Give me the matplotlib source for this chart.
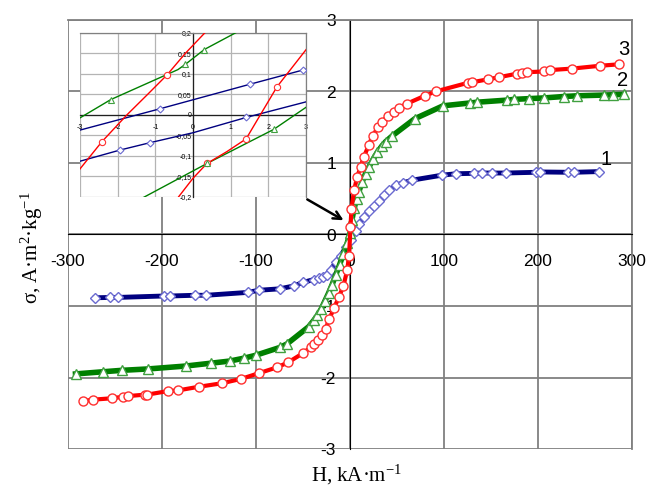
import matplotlib
matplotlib.use("Agg")
import matplotlib.pyplot as plt

plt.rcParams['font.family'] = ['Liberation Sans', 'DejaVu Sans']
plt.rcParams['axes.unicode_minus'] = False
plt.rcParams['mathtext.fontset'] = 'custom'
plt.rcParams['mathtext.rm'] = 'Liberation Serif'
plt.rcParams['mathtext.it'] = 'Liberation Serif:italic'

# ---------------- main data ----------------
H1 = [-271, -255, -247, -198, -191, -165, -153, -109, -97, -75, -60, -50, -38.5, -33, -29, -25,
      -20.5, -15, -10, -4.6, 0.7, 6, 9.6, 14.9, 20, 25.5, 30.9, 36, 42, 49, 56, 66, 98, 113, 132,
      140, 151, 166, 198, 202, 232, 238, 265]
S1 = [-0.885, -0.88, -0.88, -0.86, -0.86, -0.85, -0.85, -0.81, -0.78, -0.76, -0.72, -0.67, -0.63,
      -0.61, -0.59, -0.56, -0.49, -0.39, -0.30, -0.18, -0.07, 0.05, 0.14, 0.25, 0.33, 0.40, 0.47,
      0.55, 0.62, 0.69, 0.72, 0.76, 0.83, 0.85, 0.855, 0.86, 0.86, 0.86, 0.87, 0.875, 0.87, 0.87, 0.88]

H2 = [-292, -263, -243, -214.5, -175, -148, -128, -113, -100.5, -74.7, -67, -44, -38.5, -34.6, -30.6,
      -26.7, -22.8, -19, -15, -11, -7, -3, 0, 2, 4.5, 7, 9.5, 13, 16.5, 20, 24.5, 29, 34, 38, 45,
      69, 99, 128, 135, 167.5, 174.5, 190, 206, 227.5, 241.5, 270, 280, 291.5]
S2 = [-1.95, -1.92, -1.90, -1.88, -1.84, -1.80, -1.77, -1.73, -1.69, -1.58, -1.53, -1.29, -1.20, -1.13,
      -1.04, -0.93, -0.82, -0.70, -0.56, -0.42, -0.27, -0.12, 0.02, 0.20, 0.37, 0.50, 0.60, 0.74, 0.85,
      0.94, 1.05, 1.15, 1.24, 1.30, 1.38, 1.62, 1.80, 1.84, 1.85, 1.88, 1.89, 1.90, 1.91, 1.93, 1.94,
      1.95, 1.955, 1.96]

H3 = [-284, -273.5, -252.7, -242, -236, -218.5, -216, -193.7, -182.7, -161, -136, -116, -97, -78, -66,
      -50, -42, -38, -34, -30, -26, -22, -17, -12, -7, -3, -1, 0.5, 1.5, 4.3, 7.8, 11.3, 14.9, 20, 24,
      30, 34, 40, 46.5, 52, 60.6, 79.5, 91, 125, 130, 146.8, 158.5, 178, 183, 188.5, 206, 213, 236,
      266, 286]
S3 = [-2.33, -2.31, -2.29, -2.27, -2.26, -2.24, -2.24, -2.19, -2.18, -2.13, -2.08, -2.02, -1.94, -1.86,
      -1.79, -1.66, -1.58, -1.53, -1.47, -1.40, -1.32, -1.18, -1.03, -0.88, -0.72, -0.50, -0.30, 0.10,
      0.35, 0.62, 0.81, 0.95, 1.09, 1.25, 1.38, 1.50, 1.57, 1.66, 1.72, 1.77, 1.83, 1.94, 2.00, 2.12,
      2.13, 2.17, 2.20, 2.25, 2.26, 2.27, 2.28, 2.30, 2.32, 2.36, 2.38]

x_ticks = [-300, -200, -100, 0, 100, 200, 300]
y_ticks = [-3, -2, -1, 0, 1, 2, 3]
curve_labels = ['1', '2', '3']
label_pos = [(272.7, 1.05), (289.7, 2.16), (291.5, 2.59)]

# ---------------- inset data ----------------
in_red_up_H = [-3.06, -2.42, -1.75, -1.2, -0.69, -0.2, 0.37]
in_red_up_S = [-0.139, -0.066, 0.0, 0.05, 0.097, 0.15, 0.205]
in_red_up_mH = [-2.42, -0.69]
in_red_up_mS = [-0.066, 0.097]
in_red_lo_H = [-0.38, 0.0, 0.37, 0.9, 1.41, 1.79, 2.23, 3.03]
in_red_lo_S = [-0.2, -0.155, -0.119, -0.09, -0.059, 0.0, 0.068, 0.162]
in_red_lo_mH = [0.37, 1.41, 2.23]
in_red_lo_mS = [-0.119, -0.059, 0.068]

in_grn_up_H = [-3.06, -2.18, -0.4, -0.2, 0.3, 1.3]
in_grn_up_S = [-0.011, 0.037, 0.11, 0.123, 0.159, 0.208]
in_grn_up_mH = [-2.18, -0.2, 0.3]
in_grn_up_mS = [0.037, 0.123, 0.159]
in_grn_lo_H = [-1.4, 0.37, 2.14, 3.0]
in_grn_lo_S = [-0.206, -0.119, -0.036, 0.018]
in_grn_lo_mH = [0.37, 2.14]
in_grn_lo_mS = [-0.119, -0.036]

in_blu_up_H = [-3.06, -0.87, 1.5, 2.92, 3.0]
in_blu_up_S = [-0.039, 0.0146, 0.074, 0.109, 0.111]
in_blu_up_mH = [-0.87, 1.5, 2.92]
in_blu_up_mS = [0.0146, 0.074, 0.109]
in_blu_lo_H = [-3.06, -1.93, -1.13, 0.0, 1.42, 3.03]
in_blu_lo_S = [-0.115, -0.086, -0.068, -0.044, -0.0065, 0.032]
in_blu_lo_mH = [-1.93, -1.13, 1.42]
in_blu_lo_mS = [-0.086, -0.068, -0.0065]

in_x_ticks = [-3, -2, -1, 0, 1, 2, 3]
in_y_ticks = [-0.2, -0.15, -0.1, -0.05, 0, 0.05, 0.1, 0.15, 0.2]
in_y_labels = ['-0,2', '-0,15', '-0,1', '-0,05', '0', '0,05', '0,1', '0,15', '0,2']

# colours
c_blue_line, c_blue_mk = '#000080', '#6a6ad0'
c_grn_line, c_grn_mk = '#008000', '#40a040'
c_red_line, c_red_mk = '#ff0000', '#ff3030'
grid_c = '#808080'

fig = plt.figure(figsize=(6.48, 4.90), dpi=100)
ax = fig.add_axes([68/648, 1-449/490, 564/648, 429/490])
ax.set_xlim(-300, 300)
ax.set_ylim(-3, 3)
ax.set_xticks(x_ticks)
ax.set_yticks(y_ticks)
ax.grid(True, color=grid_c, lw=1.3)
ax.set_axisbelow(True)
for s in ['top', 'right']:
    ax.spines[s].set_color(grid_c)
    ax.spines[s].set_linewidth(1.3)
ax.spines['left'].set_position(('data', 0))
ax.spines['bottom'].set_position(('data', 0))
ax.spines['left'].set_color('black')
ax.spines['bottom'].set_color('black')
ax.spines['left'].set_linewidth(0.8)
ax.spines['bottom'].set_linewidth(0.8)
ax.tick_params(axis='both', length=0, labelsize=12.5)
ax.tick_params(axis='x', pad=14)
ax.tick_params(axis='y', pad=10)

mk = dict(mfc='white', mew=1.0, zorder=3)
ax.plot(H1, S1, '-', color=c_blue_line, lw=3.5, zorder=3)
ax.plot(H1, S1, 'D', ms=5.5, mec=c_blue_mk, ls='none', **mk)
ax.plot(H2, S2, '-', color=c_grn_line, lw=4, zorder=3)
ax.plot(H2, S2, '^', ms=7, mec=c_grn_mk, ls='none', **mk)
ax.plot(H3, S3, '-', color=c_red_line, lw=3, zorder=3)
ax.plot(H3, S3, 'o', ms=6.5, mec=c_red_mk, ls='none', **mk)

for lab, (hx, sy) in zip(curve_labels, label_pos):
    ax.text(hx, sy, lab, fontsize=14.5, ha='center', va='center', color='black')

ax.annotate('', xy=(-4.3, 0.18), xytext=(-48, 0.51),
            arrowprops=dict(arrowstyle='->', lw=1.8, color='black',
                            mutation_scale=14), zorder=5)

fig.text(31.7/648, 1-248/490, r'σ, A·m$^{2}$·kg$^{-1}$', rotation=90, ha='center', va='center',
         fontsize=15, family='Liberation Serif')
fig.text(357/648, 1-475/490, r'H, kA·m$^{-1}$', ha='center', va='center',
         fontsize=15, family='Liberation Serif')

# ---------------- inset ----------------
ai = fig.add_axes([80/648, 1-196.7/490, 226/648, 164/490])
ai.set_facecolor('white')
ai.set_xlim(-3, 3)
ai.set_ylim(-0.2, 0.2)
ai.set_xticks(in_x_ticks)
ai.set_yticks(in_y_ticks)
ai.set_yticklabels(in_y_labels)
ai.grid(True, color='#b4b4b4', lw=0.9)
ai.set_axisbelow(True)
for s in ['top', 'right']:
    ai.spines[s].set_color(grid_c)
    ai.spines[s].set_linewidth(0.9)
ai.spines['left'].set_position(('data', 0))
ai.spines['bottom'].set_position(('data', 0))
ai.spines['left'].set_linewidth(0.9)
ai.spines['bottom'].set_linewidth(0.9)
ai.spines['left'].set_color('#202020')
ai.spines['bottom'].set_color('#202020')
ai.tick_params(axis='both', length=0, labelsize=5)
ai.tick_params(axis='x', pad=7)
ai.tick_params(axis='y', pad=1)

imk = dict(mfc='white', mew=0.8, ls='none', zorder=4)
ai.plot(in_blu_up_H, in_blu_up_S, color=c_blue_line, lw=1.0, zorder=3)
ai.plot(in_blu_lo_H, in_blu_lo_S, color=c_blue_line, lw=1.0, zorder=3)
ai.plot(in_blu_up_mH, in_blu_up_mS, 'D', ms=3.5, mec=c_blue_mk, **imk)
ai.plot(in_blu_lo_mH, in_blu_lo_mS, 'D', ms=3.5, mec=c_blue_mk, **imk)
ai.plot(in_grn_up_H, in_grn_up_S, color=c_grn_line, lw=1.0, zorder=3)
ai.plot(in_grn_lo_H, in_grn_lo_S, color=c_grn_line, lw=1.0, zorder=3)
ai.plot(in_red_up_H, in_red_up_S, color=c_red_line, lw=1.0, zorder=3)
ai.plot(in_red_lo_H, in_red_lo_S, color=c_red_line, lw=1.0, zorder=3)
ai.plot(in_red_up_mH, in_red_up_mS, 'o', ms=4.5, mec=c_red_mk, **imk)
ai.plot(in_red_lo_mH, in_red_lo_mS, 'o', ms=4.5, mec=c_red_mk, **imk)
ai.plot(in_grn_up_mH, in_grn_up_mS, '^', ms=4.5, mec=c_grn_mk, **imk)
ai.plot(in_grn_lo_mH, in_grn_lo_mS, '^', ms=4.5, mec=c_grn_mk, **imk)

fig.savefig('out.png', dpi=100)
